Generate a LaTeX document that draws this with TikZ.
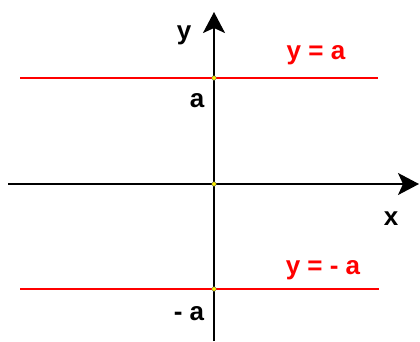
\documentclass[tikz,border=0pt]{standalone}
\usepackage{fontspec}
\setmainfont{Liberation Sans}
\usetikzlibrary{arrows.meta}
\begin{document}
\begin{tikzpicture}[x=1pt,y=-1pt,
  axis/.style={line width=2pt,black,-{Stealth[length=21pt,width=22pt,inset=5pt]}},
  redline/.style={line width=2pt,red},
  lbl/.style={font=\fontsize{26}{30}\selectfont\bfseries,inner sep=0pt},
  dot/.style={circle,fill=yellow,draw=black!60,line width=0.4pt,inner sep=0pt,minimum size=4.5pt}]
\useasboundingbox (0,0) rectangle (420,341);
\coordinate (yb) at (214,341);
\coordinate (yt) at (214,12);
\coordinate (xl) at (8,184);
\coordinate (xr) at (419,184);
\coordinate (al) at (20,78);
\coordinate (ar) at (378,78);
\coordinate (bl) at (20,289);
\coordinate (br) at (379,289);
\draw[redline] (al) -- (ar);
\draw[redline] (bl) -- (br);
\draw[axis] (yb) -- (yt);
\draw[axis] (xl) -- (xr);
\node[dot] (pa) at (214,78) {};
\node[dot] (po) at (214,184) {};
\node[dot] (pb) at (214,289) {};
\node[lbl] (ly) at (184,35) {y};
\node[lbl] (lx) at (391,219) {x};
\node[lbl] (la) at (197,101) {a};
\node[lbl] (lma) at (189,314) {- a};
\node[lbl,red] (eqa) at (316,55) {y = a};
\node[lbl,red] (eqb) at (323,270) {y = - a};
\end{tikzpicture}
\end{document}
